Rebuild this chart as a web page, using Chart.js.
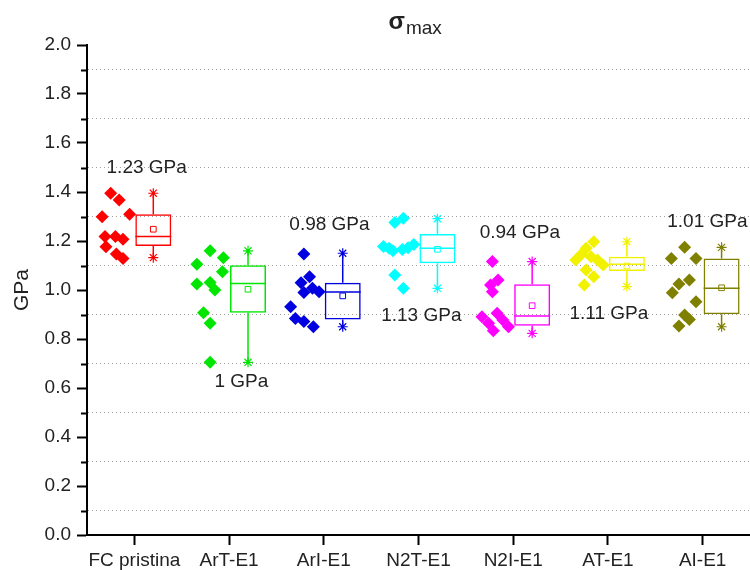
<!DOCTYPE html>
<html lang="en">
<head>
  <meta charset="UTF-8">
  <title>σmax box plots</title>
  <style>
    body { margin: 0; background: #fff; }
    #wrap { width: 750px; height: 570px; }
  </style>
</head>
<body>
  <div id="wrap"><canvas id="chart" width="750" height="570"></canvas></div>

  <script src="https://cdn.jsdelivr.net/npm/chart.js"></script>
  <script>
    // Groups and their colours
    const groups = ['FC pristina', 'ArT-E1', 'ArI-E1', 'N2T-E1', 'N2I-E1', 'AT-E1', 'AI-E1'];
    const colors = ['#ff0000', '#00e600', '#0000e0', '#00ffff', '#ff00ff', '#f2f200', '#808000'];

    // Single measurements (GPa)
    const fcPristina = [1.395, 1.367, 1.299, 1.309, 1.218, 1.218, 1.207, 1.177, 1.147, 1.129];
    const arTE1 = [1.160, 1.132, 1.105, 1.075, 1.024, 1.031, 1.000, 0.907, 0.864, 0.705];
    const arIE1 = [1.147, 1.054, 1.030, 0.990, 1.007, 0.993, 0.932, 0.884, 0.871, 0.850];
    const n2TE1 = [1.293, 1.276, 1.178, 1.160, 1.165, 1.172, 1.186, 1.170, 1.061, 1.007];
    const n2IE1 = [1.116, 1.041, 1.020, 0.993, 0.891, 0.864, 0.834, 0.905, 0.878, 0.850];
    const aTE1 = [1.197, 1.170, 1.146, 1.122, 1.136, 1.122, 1.102, 1.082, 1.054, 1.020];
    const aIE1 = [1.174, 1.129, 1.129, 1.041, 1.024, 0.989, 0.952, 0.898, 0.880, 0.853];
    const samples = [fcPristina, arTE1, arIE1, n2TE1, n2IE1, aTE1, aIE1];

    // Box statistics (GPa)
    const whiskerLow = [1.132, 0.705, 0.850, 1.007, 0.823, 1.014, 0.850];
    const q1 = [1.180, 0.907, 0.880, 1.109, 0.854, 1.078, 0.901];
    const median = [1.218, 1.027, 0.992, 1.170, 0.894, 1.105, 1.007];
    const q3 = [1.309, 1.101, 1.030, 1.229, 1.023, 1.136, 1.129];
    const whiskerHigh = [1.395, 1.160, 1.150, 1.291, 1.116, 1.197, 1.174];
    const mean = [1.248, 1.003, 0.976, 1.166, 0.936, 1.098, 1.009];

    const meanLabels = ['1.23 GPa', '1 GPa', '0.98 GPa', '1.13 GPa', '0.94 GPa', '1.11 GPa', '1.01 GPa'];

    // Layout: jitter of the dots (category units), box offset/width, label anchors
    const jitter = [
      [-0.25, -0.16, -0.34, -0.05, -0.31, -0.20, -0.12, -0.30, -0.19, -0.12],
      [-0.20, -0.06, -0.34, -0.07, -0.34, -0.20, -0.15, -0.27, -0.20, -0.20],
      [-0.21, -0.15, -0.24, -0.21, -0.12, -0.05, -0.35, -0.30, -0.21, -0.11],
      [-0.16, -0.25, -0.37, -0.27, -0.17, -0.11, -0.05, -0.31, -0.25, -0.16],
      [-0.22, -0.16, -0.24, -0.22, -0.33, -0.26, -0.21, -0.17, -0.11, -0.05],
      [-0.15, -0.23, -0.28, -0.34, -0.18, -0.11, -0.05, -0.23, -0.15, -0.25],
      [-0.19, -0.33, -0.07, -0.14, -0.25, -0.32, -0.07, -0.19, -0.14, -0.25]
    ];
    const boxShift = 0.2;
    const boxWidth = 0.38;
    const labelAt = [[0.13, 1.498], [0.13, 0.624], [0.06, 1.265], [0.03, 0.894], [0.07, 1.233], [0.01, 0.902], [0.05, 1.278]];

    const FONT = '"Liberation Sans", Arial, sans-serif';
    const TEXT = '#222';
    const isOdd = v => Math.round(v * 10) % 2 === 1;

    // Build datasets
    const datasets = [];
    datasets.push({
      type: 'bar',
      data: groups.map((g, i) => ({ x: i + boxShift, y: [q1[i], q3[i]] })),
      backgroundColor: 'rgba(255,255,255,0)',
      borderColor: colors,
      borderWidth: 1.5,
      borderSkipped: false,
      barPercentage: boxWidth,
      categoryPercentage: 1
    });
    groups.forEach((g, i) => {
      const bx = i + boxShift;
      datasets.push({
        type: 'line',
        data: [
          { x: bx, y: whiskerHigh[i] }, { x: bx, y: q3[i] }, { x: bx, y: null },
          { x: bx, y: q1[i] }, { x: bx, y: whiskerLow[i] }, { x: bx, y: null },
          { x: bx - boxWidth / 2, y: median[i] }, { x: bx + boxWidth / 2, y: median[i] }
        ],
        borderColor: colors[i],
        borderWidth: 1.5,
        pointRadius: 0,
        spanGaps: false,
        fill: false
      });
      datasets.push({
        data: [{ x: bx, y: whiskerHigh[i] }, { x: bx, y: whiskerLow[i] }],
        pointStyle: 'star',
        pointRadius: 5,
        borderColor: colors[i],
        borderWidth: 1.2
      });
      datasets.push({
        data: [{ x: bx, y: mean[i] }],
        pointStyle: 'rect',
        pointRadius: 4,
        backgroundColor: 'rgba(255,255,255,0)',
        borderColor: colors[i],
        borderWidth: 1
      });
      datasets.push({
        data: samples[i].map((v, k) => ({ x: i + jitter[i][k], y: v })),
        pointStyle: 'rectRot',
        pointRadius: 6.5,
        backgroundColor: colors[i],
        borderWidth: 0
      });
    });

    // Title with subscript, mean labels and minor y ticks
    const extras = {
      id: 'extras',
      afterDraw(chart) {
        const ctx = chart.ctx;
        const a = chart.chartArea;
        const xs = chart.scales.x, ys = chart.scales.y;
        ctx.save();
        ctx.fillStyle = TEXT;
        ctx.textBaseline = 'alphabetic';
        ctx.textAlign = 'left';
        const x0 = (a.left + a.right) / 2 - 30;
        ctx.font = 'bold 24px ' + FONT;
        ctx.fillText('σ', x0, 29);
        const w = ctx.measureText('σ').width;
        ctx.font = '19px ' + FONT;
        ctx.fillText('max', x0 + w + 1, 34);

        ctx.textAlign = 'center';
        ctx.textBaseline = 'middle';
        meanLabels.forEach((t, i) => {
          ctx.fillText(t, xs.getPixelForValue(i + labelAt[i][0]), ys.getPixelForValue(labelAt[i][1]));
        });

        ctx.strokeStyle = '#000';
        ctx.lineWidth = 2;
        ys.ticks.forEach(t => {
          if (!isOdd(t.value)) return;
          const py = Math.round(ys.getPixelForValue(t.value)) + 0.5;
          ctx.beginPath();
          ctx.moveTo(a.left - 6, py);
          ctx.lineTo(a.left, py);
          ctx.stroke();
        });
        ctx.restore();
      }
    };

    new Chart(document.getElementById('chart'), {
      type: 'scatter',
      data: { datasets },
      options: {
        responsive: false,
        animation: false,
        layout: { autoPadding: false, padding: { top: 45, right: 0, bottom: 0, left: 0 } },
        plugins: { legend: { display: false }, tooltip: { enabled: false } },
        scales: {
          x: {
            type: 'linear',
            min: -0.5,
            max: 6.5,
            offset: false,
            afterBuildTicks: s => { s.ticks = groups.map((g, i) => ({ value: i })); },
            afterFit: s => { s.height = 35; s.paddingRight = 0; },
            border: { color: '#000', width: 2 },
            grid: { offset: false, drawOnChartArea: false, tickLength: 10, tickColor: '#000', tickWidth: 2 },
            ticks: {
              autoSkip: false,
              maxRotation: 0,
              padding: 4,
              color: TEXT,
              font: { family: FONT, size: 19 },
              callback: v => groups[v]
            }
          },
          y: {
            min: 0,
            max: 2,
            afterFit: s => { s.width = 87; },
            border: { color: '#000', width: 2, dash: [1, 3] },
            grid: {
              color: c => isOdd(c.tick.value) ? '#a0a0a0' : 'rgba(0,0,0,0)',
              lineWidth: 1,
              tickLength: 10,
              tickWidth: 2,
              tickBorderDash: [],
              tickColor: c => isOdd(c.tick.value) ? 'rgba(0,0,0,0)' : '#000'
            },
            ticks: {
              stepSize: 0.1,
              autoSkip: false,
              padding: 6,
              color: TEXT,
              font: { family: FONT, size: 19 },
              callback: v => isOdd(v) ? '' : v.toFixed(1)
            },
            title: {
              display: true,
              text: 'GPa',
              color: TEXT,
              font: { family: FONT, size: 21 },
              padding: { top: 10, bottom: 0 }
            }
          }
        }
      },
      plugins: [extras]
    });
  </script>
</body>
</html>
